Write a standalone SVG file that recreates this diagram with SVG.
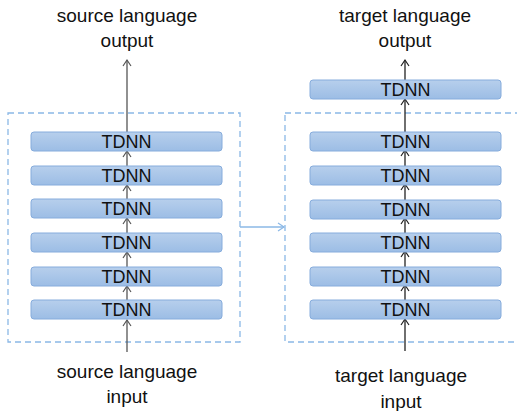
<svg xmlns="http://www.w3.org/2000/svg" width="517" height="411" viewBox="0 0 517 411">
<style>
.lbl{font-family:"Liberation Sans",Arial,sans-serif;font-size:19px;fill:#111;text-anchor:middle}
.tl{font-family:"Liberation Sans",Arial,sans-serif;font-size:18px;fill:#111;text-anchor:middle}
.box{fill:url(#g);stroke:#86ACDC;stroke-width:1}
.dash{fill:none;stroke:#8BB8E6;stroke-width:1.3;stroke-dasharray:6 4}
.al{stroke:#555;stroke-width:1.3;fill:none;marker-end:url(#ag)}
.ar{stroke:#222;stroke-width:1.3;fill:none;marker-end:url(#ak)}
.ab{stroke:#8BB8E6;stroke-width:1.3;fill:none;marker-end:url(#ab)}
</style>
<defs>
<linearGradient id="g" x1="0" y1="0" x2="0" y2="1">
<stop offset="0" stop-color="#B7CFEC"/>
<stop offset="1" stop-color="#9CBDE5"/>
</linearGradient>
<marker id="ag" markerWidth="10" markerHeight="10" refX="8" refY="5" orient="auto" markerUnits="userSpaceOnUse">
<path d="M2,1 L8,5 L2,9" fill="none" stroke="#555" stroke-width="1.2"/>
</marker>
<marker id="ak" markerWidth="10" markerHeight="10" refX="8" refY="5" orient="auto" markerUnits="userSpaceOnUse">
<path d="M2,1 L8,5 L2,9" fill="none" stroke="#222" stroke-width="1.2"/>
</marker>
<marker id="ab" markerWidth="10" markerHeight="10" refX="8" refY="5" orient="auto" markerUnits="userSpaceOnUse">
<path d="M2,1 L8,5 L2,9" fill="none" stroke="#8BB8E6" stroke-width="1.2"/>
</marker>
</defs>

<g id="source-model">
<rect class="dash" x="8" y="113" width="232" height="229"/>
</g>
<g id="target-model">
<rect class="dash" x="285" y="113" width="240" height="229"/>
</g>

<g id="connectors">
<line class="al" x1="127" y1="352" x2="127" y2="320"/>
<line class="al" x1="127" y1="300" x2="127" y2="286"/>
<line class="al" x1="127" y1="267" x2="127" y2="252"/>
<line class="al" x1="127" y1="233" x2="127" y2="218"/>
<line class="al" x1="127" y1="199" x2="127" y2="185"/>
<line class="al" x1="127" y1="166" x2="127" y2="151"/>
<line class="al" x1="127" y1="132" x2="127" y2="60"/>
<line class="ar" x1="405" y1="351" x2="405" y2="319"/>
<line class="ar" x1="405" y1="300" x2="405" y2="285"/>
<line class="ar" x1="405" y1="267" x2="405" y2="251"/>
<line class="ar" x1="405" y1="233" x2="405" y2="218"/>
<line class="ar" x1="405" y1="200" x2="405" y2="184"/>
<line class="ar" x1="405" y1="166" x2="405" y2="150"/>
<line class="ar" x1="405" y1="132" x2="405" y2="99"/>
<line class="ar" x1="405" y1="80" x2="405" y2="60"/>
<line class="ab" x1="240" y1="227" x2="284" y2="227"/>
</g>

<g id="s1"><rect class="box" x="31" y="132" width="191" height="19" rx="3"/><text class="tl" x="126.5" y="148">TDNN</text></g>
<g id="s2"><rect class="box" x="31" y="166" width="191" height="19" rx="3"/><text class="tl" x="126.5" y="182">TDNN</text></g>
<g id="s3"><rect class="box" x="31" y="199" width="191" height="19" rx="3"/><text class="tl" x="126.5" y="215">TDNN</text></g>
<g id="s4"><rect class="box" x="31" y="233" width="191" height="19" rx="3"/><text class="tl" x="126.5" y="249">TDNN</text></g>
<g id="s5"><rect class="box" x="31" y="267" width="191" height="19" rx="3"/><text class="tl" x="126.5" y="283">TDNN</text></g>
<g id="s6"><rect class="box" x="31" y="300" width="191" height="19" rx="3"/><text class="tl" x="126.5" y="316">TDNN</text></g>

<g id="t0"><rect class="box" x="310" y="80" width="191" height="19" rx="3"/><text class="tl" x="405.5" y="96">TDNN</text></g>
<g id="t1"><rect class="box" x="310" y="132" width="191" height="19" rx="3"/><text class="tl" x="405.5" y="148">TDNN</text></g>
<g id="t2"><rect class="box" x="310" y="166" width="191" height="19" rx="3"/><text class="tl" x="405.5" y="182">TDNN</text></g>
<g id="t3"><rect class="box" x="310" y="200" width="191" height="19" rx="3"/><text class="tl" x="405.5" y="216">TDNN</text></g>
<g id="t4"><rect class="box" x="310" y="233" width="191" height="19" rx="3"/><text class="tl" x="405.5" y="249">TDNN</text></g>
<g id="t5"><rect class="box" x="310" y="267" width="191" height="19" rx="3"/><text class="tl" x="405.5" y="283">TDNN</text></g>
<g id="t6"><rect class="box" x="310" y="300" width="191" height="19" rx="3"/><text class="tl" x="405.5" y="316">TDNN</text></g>

<g id="src-out"><text class="lbl" x="127" y="22">source language</text><text class="lbl" x="127" y="47">output</text></g>
<g id="tgt-out"><text class="lbl" x="405" y="22">target language</text><text class="lbl" x="405" y="47">output</text></g>
<g id="src-in"><text class="lbl" x="127" y="378">source language</text><text class="lbl" x="127" y="403">input</text></g>
<g id="tgt-in"><text class="lbl" x="401" y="382">target language</text><text class="lbl" x="401" y="408">input</text></g>
</svg>
